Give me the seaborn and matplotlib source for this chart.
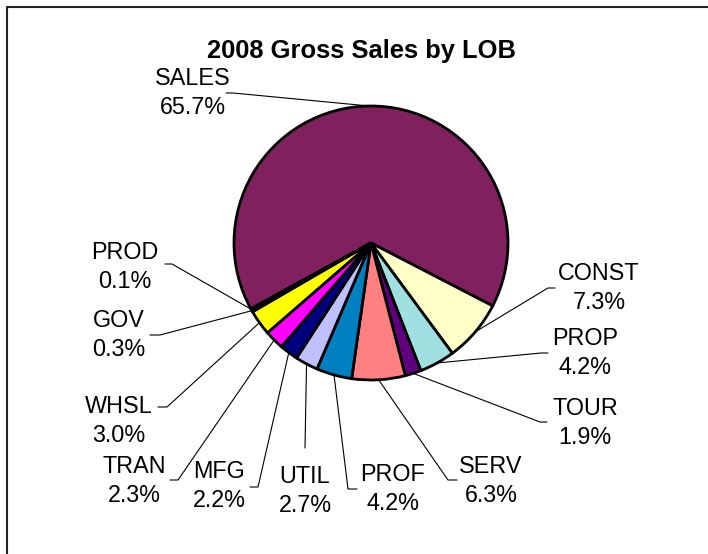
import matplotlib.pyplot as plt
import numpy as np
import seaborn as sns
from matplotlib.lines import Line2D

# Data
categories = ["SALES", "CONST", "PROP", "TOUR", "SERV", "PROF",
              "UTIL", "MFG", "TRAN", "WHSL", "GOV", "PROD"]
shares = [65.7, 7.3, 4.2, 1.9, 6.3, 4.2, 2.7, 2.2, 2.3, 3.0, 0.3, 0.1]
colors = ["#80205F", "#FFFFC8", "#A0E0E0", "#600080", "#FF8080", "#0080C0",
          "#C0C0FF", "#000080", "#FF00FF", "#FFFF00", "#00FFFF", "#800080"]
title = "2008 Gross Sales by LOB"

# Layout (pixels of the 708x554 picture)
W, H = 708, 554
CX, CY, R = 371, 243, 137
# label centre, leader elbow, horizontal stub length toward the label
label_layout = {
    "SALES": ((193, 93), (233, 93), -7),
    "CONST": ((599, 288), (548, 288), 7),
    "PROP": ((585, 353), (541, 353), 7),
    "TOUR": ((585, 423), (540, 422), 7),
    "SERV": ((491, 481), (448, 480), 9),
    "PROF": ((393, 489), (348, 489), 9),
    "UTIL": ((305, 491), (305, 448), 0),
    "MFG": ((219, 486), (258, 487), -8),
    "TRAN": ((134, 481), (178, 480), -8),
    "WHSL": ((119, 421), (167, 407), -9),
    "GOV": ((119, 335), (160, 335), -10),
    "PROD": ((125, 267), (172, 264), -7),
}


def to_data(px, py):
    return (px - CX) / R, (CY - py) / R


sns.set_style("white")
plt.rcParams["font.family"] = ["Liberation Sans", "DejaVu Sans"]
plt.rcParams["text.color"] = "black"

fig = plt.figure(figsize=(W / 100, H / 100), dpi=100)
ax = fig.add_axes([(CX - R) / W, (H - CY - R) / H, 2 * R / W, 2 * R / H])

wedges, _ = ax.pie(shares, colors=colors, startangle=208.7, counterclock=False,
                   wedgeprops=dict(edgecolor="black", linewidth=2.0))
ax.set_xlim(-1, 1)
ax.set_ylim(-1, 1)
ax.set_aspect("equal", adjustable="box")
ax.axis("off")

for w, cat, share in zip(wedges, categories, shares):
    mid = np.deg2rad((w.theta1 + w.theta2) / 2)
    ex, ey = np.cos(mid), np.sin(mid)
    (lx, ly), (bx, by), stub = label_layout[cat]
    bxd, byd = to_data(bx, by)
    sxd, _ = to_data(bx + stub, by)
    ax.plot([ex, bxd, sxd], [ey, byd, byd], color="black", lw=0.8,
            clip_on=False, zorder=0)
    tx, ty = to_data(lx, ly)
    ax.text(tx, ty, f"{cat}\n{share:.1f}%", ha="center", va="center",
            fontsize=16.8, linespacing=1.34, color="black", clip_on=False)

fig.text(361 / W, 1 - 51 / H, title, ha="center", va="center",
         fontsize=18.4, fontweight="bold", color="black")

# chart-area frame (only top and left edges are inside the picture)
fig.add_artist(Line2D([7 / W, 7 / W, 1.0], [0.0, 1 - 7 / H, 1 - 7 / H],
                      transform=fig.transFigure, color="#222222", lw=1.5))

fig.savefig("out.png", dpi=100)
